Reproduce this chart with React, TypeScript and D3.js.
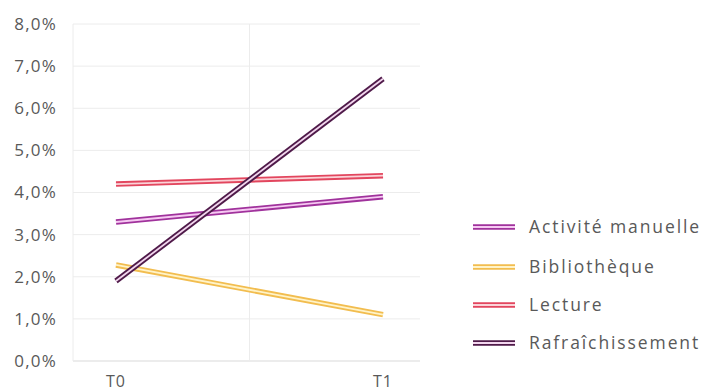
import React from "react";
import * as d3 from "d3";

const categories = ["T0", "T1"];
const seriesNames = ["Activité manuelle", "Bibliothèque", "Lecture", "Rafraîchissement"];
const activiteValues = [0.033, 0.039];
const bibliothequeValues = [0.0228, 0.011];
const lectureValues = [0.042, 0.044];
const rafraichissementValues = [0.019, 0.067];
const seriesColors = ["#a0329c", "#f2bd4f", "#e2465e", "#4f1a49"];
const innerColors = ["#f6c9f2", "#fff3c8", "#fbd3d8", "#f2d6ee"];
const yTicks = [0, 0.01, 0.02, 0.03, 0.04, 0.05, 0.06, 0.07, 0.08];

const W = 702;
const H = 392;
const plotLeft = 73;
const plotRight = 420;
const plotTop = 24;
const plotBottom = 361;

export default function App() {
  const allValues = [activiteValues, bibliothequeValues, lectureValues, rafraichissementValues];
  const y = d3.scaleLinear().domain([0, 0.08]).range([plotBottom, plotTop]);
  const x = d3.scalePoint<string>().domain(categories).range([116, 383]);
  const fmt = (v: number) => (v * 100).toFixed(1).replace(".", ",") + "%";
  const line = d3
    .line<number>()
    .x((_, i) => x(categories[i]) as number)
    .y((d) => y(d));
  const midX = ((x("T0") as number) + (x("T1") as number)) / 2;
  const font = "'Open Sans', sans-serif";
  const legendY = [227, 267, 305, 343];

  return (
    <svg width={W} height={H} style={{ position: "absolute", left: 0, top: 0, background: "#fff" }}>
      <rect x={0} y={0} width={W} height={H} fill="#fff" />
      {yTicks.map((t) => (
        <line key={t} x1={plotLeft} x2={plotRight} y1={y(t)} y2={y(t)} stroke={t === 0 ? "#d9d9d9" : "#ececec"} strokeWidth={1} />
      ))}
      <line x1={plotLeft} x2={plotLeft} y1={plotTop} y2={plotBottom} stroke="#ececec" />
      <line x1={midX} x2={midX} y1={plotTop} y2={plotBottom} stroke="#ececec" />
      {yTicks.map((t) => (
        <text key={"l" + t} x={57} y={y(t)} dy="0.35em" textAnchor="end" fontFamily={font} fontSize={17} letterSpacing={1.2} fill="#595959">
          {fmt(t)}
        </text>
      ))}
      {categories.map((c) => (
        <text key={c} x={x(c) as number} y={381} dy="0.35em" textAnchor="middle" fontFamily={font} fontSize={16} letterSpacing={1} fill="#595959">
          {c}
        </text>
      ))}
      {allValues.map((vals, i) => (
        <g key={seriesNames[i]}>
          <path d={line(vals) as string} fill="none" stroke={seriesColors[i]} strokeWidth={5.5} />
          <path d={line(vals) as string} fill="none" stroke={innerColors[i]} strokeWidth={1.8} />
        </g>
      ))}
      {seriesNames.map((n, i) => (
        <g key={"lg" + n}>
          <line x1={473} x2={515} y1={legendY[i]} y2={legendY[i]} stroke={seriesColors[i]} strokeWidth={5.5} />
          <line x1={473} x2={515} y1={legendY[i]} y2={legendY[i]} stroke={innerColors[i]} strokeWidth={1.8} />
          <text x={529} y={legendY[i]} dy="0.35em" fontFamily={font} fontSize={17.5} letterSpacing={1.9} fill="#595959">
            {n}
          </text>
        </g>
      ))}
    </svg>
  );
}
